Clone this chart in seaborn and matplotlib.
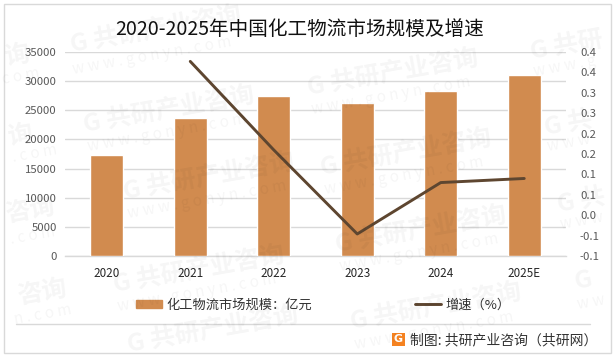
import numpy as np
import pandas as pd
import matplotlib
matplotlib.use("Agg")
import matplotlib.pyplot as plt
from matplotlib.patches import Rectangle, Patch
from matplotlib.lines import Line2D
import seaborn as sns

categories = ["2020", "2021", "2022", "2023", "2024", "2025E"]
market_size = [17300, 23750, 27500, 26300, 28350, 31100]
growth = [np.nan, 0.377, 0.160, -0.046, 0.080, 0.090]
left_ticks = [0, 5000, 10000, 15000, 20000, 25000, 30000, 35000]
right_ticks = [-0.10, -0.05, 0.00, 0.05, 0.10, 0.15, 0.20, 0.25, 0.30, 0.35, 0.40]
right_labels = ["-0.1", "-0.1", "0.0", "0.1", "0.1", "0.2", "0.2", "0.3", "0.3", "0.4", "0.4"]
title = "2020-2025年中国化工物流市场规模及增速"
bar_label = "化工物流市场规模：亿元"
line_label = "增速（%）"
source = "制图: 共研产业咨询（共研网）"

W, H = 614, 357
sns.set_theme(style="white")
plt.rcParams["font.family"] = ["Noto Sans CJK SC", "DejaVu Sans"]

BAR = "#D18B4F"
LINE = "#5E4630"
GRID = "#D9D9D9"
TICK = "#595959"

fig = plt.figure(figsize=(W / 100, H / 100), dpi=100, facecolor="white")
def fx(x): return x / W
def fy(y): return 1 - y / H

ax = fig.add_axes([fx(65), fy(256), 501 / W, 204 / H])
df = pd.DataFrame({"year": categories, "size": market_size, "growth": growth})
sns.barplot(data=df, x="year", y="size", color=BAR, saturation=1, width=0.395, ax=ax, zorder=3)
ax.set_xlim(-0.5, 5.5)
ax.set_ylim(0, 35000)
ax.set_yticks(left_ticks)
ax.set_xlabel("")
ax.set_ylabel("")
ax.grid(axis="y", color=GRID, lw=1, zorder=0)
ax.set_axisbelow(True)
for s in ["top", "left", "right"]:
    ax.spines[s].set_visible(False)
ax.spines["bottom"].set_color(GRID)
ax.spines["bottom"].set_linewidth(1)
ax.tick_params(axis="y", length=0, labelsize=8.2, labelcolor=TICK, pad=6)
ax.tick_params(axis="x", length=0, labelsize=8.4, labelcolor="#262626", pad=8)

ax2 = ax.twinx()
sns.lineplot(x=np.arange(len(categories)), y=df["growth"], color=LINE, lw=2.1, ax=ax2,
             errorbar=None, zorder=4, legend=False)
ax2.set_ylim(-0.10, 0.40)
ax2.set_yticks(right_ticks)
ax2.set_yticklabels(right_labels)
ax2.set_ylabel("")
ax2.grid(False)
for s in ax2.spines.values():
    s.set_visible(False)
ax2.tick_params(axis="y", length=0, labelsize=8.2, labelcolor=TICK, pad=10)

fig.text(fx(299.5), fy(29), title, ha="center", va="center", fontsize=14.1, color="#111111")

handles = [Patch(color=BAR, label=bar_label), Line2D([0], [0], color=LINE, lw=2.1, label=line_label)]
fig.legend(handles=handles, ncol=2, frameon=False, loc="center left",
           bbox_to_anchor=(fx(132), fy(305)), fontsize=9.5, labelcolor="#333333",
           handlelength=2.0, handleheight=0.6, handletextpad=0.3, columnspacing=7.8,
           borderpad=0.3, borderaxespad=0)

# frame and footer
fig.add_artist(Rectangle((fx(3.5), fy(353)), 607 / W, 349 / H, transform=fig.transFigure,
                         fill=False, ec="#D9D9D9", lw=1))
fig.add_artist(Line2D([fx(16), fx(590)], [fy(323.5), fy(323.5)], transform=fig.transFigure,
                      color="#D9D9D9", lw=1))
fig.add_artist(Rectangle((fx(392), fy(346)), 13 / W, 13 / H, transform=fig.transFigure,
                         fc="#F58220", ec="none"))
fig.text(fx(398.5), fy(339.5), "G", ha="center", va="center", fontsize=8,
         fontweight="bold", color="white", family="DejaVu Sans")
fig.text(fx(410), fy(340), source, ha="left", va="center", fontsize=10, color="#333333")

# watermarks: (x, y, text) left-anchored; pieces at the edges are shortened to fit
full = "G 共研产业咨询"
www = "w w w . g o n y n . c o m"
mark_main = [(70, 45, full), (83, 125, full), (307, 88, full), (320, 168, full), (113, 285, full),
             (335, 245, full), (350, 322, full), (127, 345, full), (123, 192, full),
             (530, 52, "G 共研"), (544, 128, "G 共"), (557, 205, "G 共"), (574, 282, "G"),
             (5, 58, "询"), (8, 138, "询"), (6, 215, "咨询"), (18, 297, "咨询")]
mark_sub = [(73, 70, www), (88, 147, www), (312, 110, www), (325, 190, www), (118, 307, www),
            (340, 267, www), (355, 345, www), (128, 214, www),
            (534, 72, "w w w . g"), (547, 147, "w w w"), (560, 225, "w w w"), (577, 305, "w w"),
            (2, 80, "c o m"), (12, 158, ". c o m"), (10, 240, ". c o m"), (14, 320, "n . c o m")]
for x, y, t in mark_main:
    fig.text(fx(x), fy(y), t, ha="left", va="center", rotation=10, rotation_mode="anchor",
             fontsize=18, fontweight="bold", color="#000000", alpha=0.04, zorder=10)
for x, y, t in mark_sub:
    fig.text(fx(x), fy(y), t, ha="left", va="center", rotation=10, rotation_mode="anchor",
             fontsize=11, color="#000000", alpha=0.04, zorder=10)

fig.savefig("out.png", dpi=100)
